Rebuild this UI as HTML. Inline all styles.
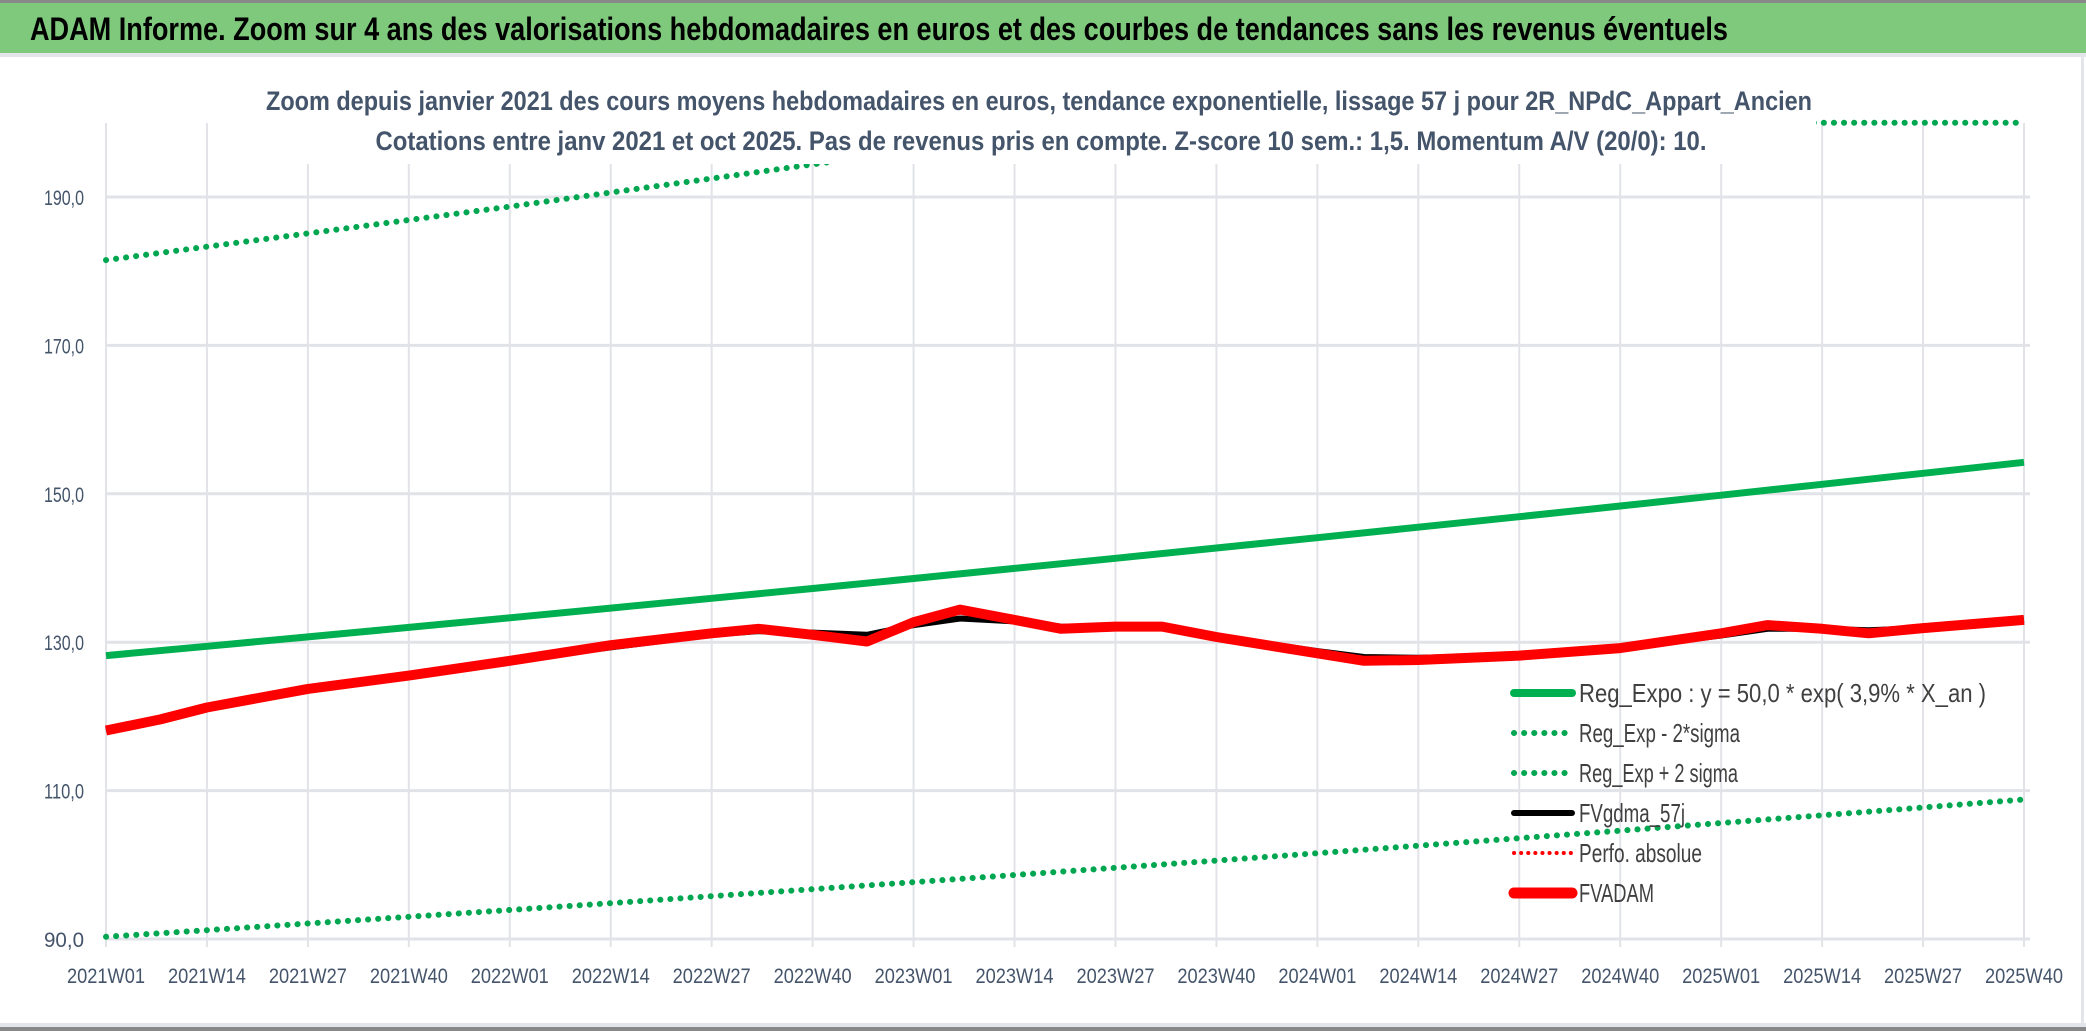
<!DOCTYPE html>
<html><head><meta charset="utf-8"><style>
body{margin:0;width:2086px;height:1031px;overflow:hidden;background:#fff;font-family:"Liberation Sans",sans-serif}
svg{display:block}
</style></head><body>
<svg id="chart" width="2086" height="1031" viewBox="0 0 2086 1031">
<rect x="0" y="0" width="2086" height="1031" fill="#fff"/>
<rect x="0" y="0" width="2086" height="3" fill="#888"/>
<rect x="0" y="3" width="2086" height="50" fill="#7ec97c"/>
<text x="30" y="40" font-size="32" font-weight="bold" fill="#000" textLength="1698" lengthAdjust="spacingAndGlyphs">ADAM Informe. Zoom sur 4 ans des valorisations hebdomadaires en euros et des courbes de tendances sans les revenus éventuels</text>
<rect x="0" y="53" width="2086" height="4" fill="#e3e5ea"/>
<rect x="2081" y="53" width="3" height="975" fill="#e3e5ea"/>
<rect x="0" y="1023" width="2086" height="4" fill="#e3e5ea"/>
<rect x="0" y="1027" width="2086" height="4" fill="#888"/>
<g id="grid"></g>
<g id="series"></g>
<rect x="262" y="78" width="1554" height="86" fill="#fff"/>
<text x="1039" y="110" font-size="27" font-weight="bold" fill="#44546a" text-anchor="middle" textLength="1546" lengthAdjust="spacingAndGlyphs">Zoom depuis janvier 2021 des cours moyens hebdomadaires en euros, tendance exponentielle, lissage 57 j pour 2R_NPdC_Appart_Ancien</text>
<text x="1041" y="150" font-size="27" font-weight="bold" fill="#44546a" text-anchor="middle" textLength="1331" lengthAdjust="spacingAndGlyphs">Cotations entre janv 2021 et oct 2025. Pas de revenus pris en compte. Z-score 10 sem.: 1,5. Momentum A/V (20/0): 10.</text>
<g id="legend"></g>
</svg>
<script>
const xLabels=["2021W01","2021W14","2021W27","2021W40","2022W01","2022W14","2022W27","2022W40","2023W01","2023W14","2023W27","2023W40","2024W01","2024W14","2024W27","2024W40","2025W01","2025W14","2025W27","2025W40"];
const yTicks=[90,110,130,150,170,190];
const trendWeeks=[0,13,26,39,52,65,78,91,104,117,130,143,156,169,182,195,208,221,234,247];
const regExpo=[128.2,129.45,130.71,131.99,133.29,134.59,135.91,137.24,138.58,139.94,141.31,142.69,144.09,145.5,146.92,148.36,149.81,151.28,152.76,154.24];
const regLow=[90.3,91.19,92.09,92.99,93.91,94.83,95.77,96.71,97.66,98.62,99.59,100.57,101.57,102.57,103.58,104.6,105.63,106.67,107.72,108.8];
const regHigh=[181.5,183.3,185.1,186.9,188.7,190.6,192.5,194.4,196.3,198.2,200.2,202.2,204.2,206.2,208.2,210.3,212.4,214.5,216.6,218.7];
const adamWeeks=[0,7,13,26,39,52,65,78,84,91,98,104,110,117,123,130,136,143,156,162,169,182,195,208,214,221,227,234,247];
const fvadam=[118.1,119.6,121.2,123.7,125.5,127.5,129.6,131.2,131.8,131.0,130.1,132.7,134.4,133.0,131.8,132.1,132.1,130.7,128.5,127.5,127.6,128.2,129.2,131.2,132.3,131.8,131.2,131.9,133.0];
const fvgdma=[118.1,119.6,121.2,123.7,125.5,127.5,129.3,131.0,131.5,131.3,131.0,132.3,133.2,132.8,132.1,132.0,132.0,130.8,128.8,128.0,127.9,128.2,129.2,130.9,131.8,131.8,131.6,131.9,133.0];

const X0=106,X1=2024,NW=247,Y0=939,PY=7.42,YMAX=200;
const sx=w=>X0+(w/NW)*(X1-X0);
const sy=v=>Y0-(Math.min(v,YMAX)-90)*PY;
const NS="http://www.w3.org/2000/svg";
function mk(tag,attrs,parent){const e=document.createElementNS(NS,tag);for(const k in attrs)e.setAttribute(k,attrs[k]);parent.appendChild(e);return e;}
const grid=document.getElementById('grid'),series=document.getElementById('series'),legend=document.getElementById('legend');
xLabels.forEach((l,i)=>{
  const x=sx(i*13);
  const ln=mk('line',{x1:x,x2:x,y1:123,y2:947,stroke:'#e1e3e8','stroke-width':2},grid);
  
  
  const t=mk('text',{x:x,y:983,'font-size':21,fill:'#44546a','text-anchor':'middle',textLength:78,lengthAdjust:'spacingAndGlyphs'},grid);
  t.textContent=l;
  
  
});
yTicks.forEach(v=>{
  const y=sy(v);
  const ln=mk('line',{x1:X0,x2:2030,y1:y,y2:y,stroke:'#e1e3e8','stroke-width':3},grid);
  
  
  const t=mk('text',{x:84,y:y+8,'font-size':21,fill:'#44546a','text-anchor':'end',textLength:40,lengthAdjust:'spacingAndGlyphs'},grid);
  t.textContent=v.toFixed(1).replace('.',',');
  
  
});
function path(ws,vs){return ws.map((w,i)=>(i?'L':'M')+sx(w).toFixed(1)+','+sy(vs[i]).toFixed(1)).join(' ');}
let p;
p=mk('path',{d:path(trendWeeks,regLow),fill:'none',stroke:'#00a650','stroke-width':6,'stroke-dasharray':'0.1 10','stroke-linecap':'round'},series);


p=mk('path',{d:path(trendWeeks,regHigh),fill:'none',stroke:'#00a650','stroke-width':6,'stroke-dasharray':'0.1 10','stroke-linecap':'round'},series);


p=mk('path',{d:path(trendWeeks,regExpo),fill:'none',stroke:'#00b050','stroke-width':7},series);


p=mk('path',{d:path(adamWeeks,fvgdma),fill:'none',stroke:'#000','stroke-width':6,'stroke-linejoin':'round'},series);


p=mk('path',{d:path(adamWeeks,fvadam),fill:'none',stroke:'#ff0000','stroke-width':10,'stroke-linejoin':'round'},series);



const legNames=["Reg_Expo : y = 50,0 * exp( 3,9% *  X_an )","Reg_Exp - 2*sigma","Reg_Exp + 2 sigma","FVgdma_57j","Perfo. absolue","FVADAM"];
const legStyles=[['#00b050',8,''],['#00a650',6,'0.1 10'],['#00a650',6,'0.1 10'],['#000',6,''],['#ff0000',4,'0.1 7'],['#ff0000',11,'']];
const legW=[407,161,159,106,123,75];
legNames.forEach((n,i)=>{
  const y=693+i*40;
  const st=legStyles[i];
  const l=mk('line',{x1:1514,x2:1572,y1:y,y2:y,stroke:st[0],'stroke-width':st[1],'stroke-linecap':'round'},legend);
  if(st[2])l.setAttribute('stroke-dasharray',st[2]);
  
  
  const t=mk('text',{x:1579,y:y+9,'font-size':26,fill:'#404040',textLength:legW[i],lengthAdjust:'spacingAndGlyphs'},legend);
  t.textContent=n;
  
  
});
</script>
</body></html>
